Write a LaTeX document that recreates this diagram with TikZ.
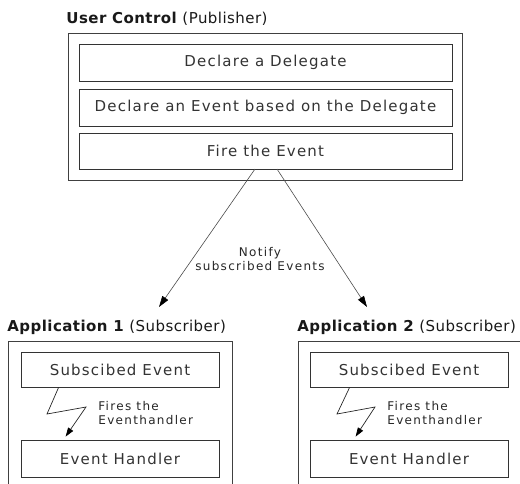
\documentclass[tikz,border=0pt]{standalone}
\usepackage{fontspec}
\setmainfont{DejaVu Sans}
\newfontfamily\boxfont[LetterSpace=8]{DejaVu Sans}
\newfontfamily\titlefont[LetterSpace=3]{DejaVu Sans}
\newfontfamily\smallfont[LetterSpace=11]{DejaVu Sans}
\usetikzlibrary{arrows.meta,calc}
\begin{document}
\begin{tikzpicture}[x=1pt,y=-1pt,
  line width=0.8pt,
  boxtext/.style={font=\boxfont\fontsize{15}{18}\selectfont, text=black!80},
  titletext/.style={font=\titlefont\fontsize{15}{18}\selectfont, text=black!90, anchor=base west, inner sep=0pt},
  smalltext/.style={font=\smallfont\fontsize{12}{14}\selectfont, text=black!85, align=center, inner sep=0pt},
  inbox/.style={draw=black!80, boxtext, inner sep=0pt},
  outline/.style={draw=black!75},
  conn/.style={draw=black!70, line width=0.6pt, -{Triangle[length=11pt,width=7pt,color=black]}},
  bolt/.style={draw=black!85, line width=0.7pt, -{Triangle[length=9pt,width=6pt,color=black]}}
]
\useasboundingbox (0,0) rectangle (520,483);
% publisher
\node[titletext] (uctitle) at (66,23) {\textbf{User Control} (Publisher)};
\draw[outline] (68,33) rectangle (462,180);
\node[inbox, minimum width=373pt, minimum height=37pt] (b1) at (265.5,62.5) {Declare a Delegate};
\node[inbox, minimum width=373pt, minimum height=37pt] (b2) at (265.5,107.5) {Declare an Event based on the Delegate};
\node[inbox, minimum width=373pt, minimum height=36pt] (b3) at (265.5,151) {Fire the Event};
\coordinate (s1) at (255,169);
\coordinate (s2) at (277,169);
\node[smalltext] (notify) at (260,259) {Notify\\subscribed Events};
% subscriber 1
\node[titletext] (a1title) at (7,331) {\textbf{Application 1} (Subscriber)};
\draw[outline] (8,484) -- (8,341) -- (232,341) -- (232,484);
\node[inbox, minimum width=198pt, minimum height=35pt] (e1) at (120,369.5) {Subscibed Event};
\node[inbox, minimum width=198pt, minimum height=37pt] (h1) at (120,458.5) {Event Handler};
\coordinate (t1) at (159,307);
\node[smalltext, align=left, anchor=west] (f1) at (98,413) {Fires the\\Eventhandler};
\draw[bolt] ($(e1.south west)+(38,0)$) -- (47,414) -- (86,407) -- ($(h1.north west)+(45,-3)$);
% subscriber 2
\node[titletext] (a2title) at (297,331) {\textbf{Application 2} (Subscriber)};
\draw[outline] (298,484) -- (298,341) -- (521,341);
\node[inbox, minimum width=198pt, minimum height=35pt] (e2) at (409,369.5) {Subscibed Event};
\node[inbox, minimum width=198pt, minimum height=37pt] (h2) at (409,458.5) {Event Handler};
\coordinate (t2) at (367,307);
\node[smalltext, align=left, anchor=west] (f2) at (387,413) {Fires the\\Eventhandler};
\draw[bolt] ($(e2.south west)+(40,0)$) -- (337,414) -- (375,407) -- ($(h2.north west)+(46,-3)$);
% connectors
\draw[conn] (s1) -- (t1);
\draw[conn] (s2) -- (t2);
\end{tikzpicture}
\end{document}
